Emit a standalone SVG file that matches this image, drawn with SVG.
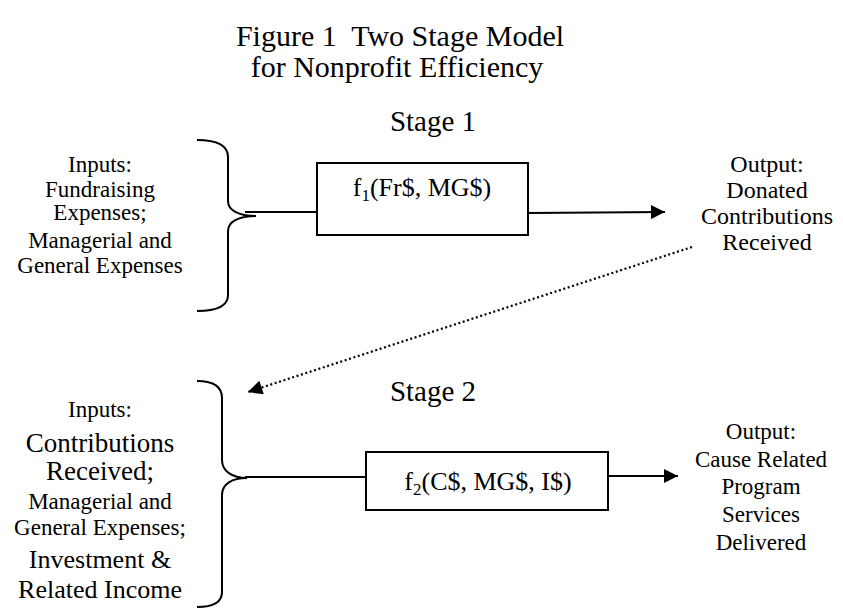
<svg xmlns="http://www.w3.org/2000/svg" width="843" height="610" viewBox="0 0 843 610">
<defs>
<style>
text{font-family:"Liberation Serif","Times New Roman",serif;fill:#000;text-anchor:middle}
.title{font-size:30px}
.stage{font-size:29px}
.t23{font-size:23px}
.t24{font-size:24px}
.t26{font-size:26px}
.t27{font-size:27px}
.brace,.box,.line{fill:none;stroke:#000;stroke-width:2}
.dot{fill:none;stroke:#000;stroke-width:2.2;stroke-dasharray:2 2.6}
</style>
<marker id="ah" viewBox="0 0 10 10" refX="10" refY="5" markerWidth="8" markerHeight="7" markerUnits="strokeWidth" orient="auto">
<path d="M0,0 L10,5 L0,10 Z" fill="#000"/>
</marker>
<marker id="ahd" viewBox="0 0 10 10" refX="10" refY="5" markerWidth="7" markerHeight="6.5" markerUnits="strokeWidth" orient="auto">
<path d="M0,0 L10,5 L0,10 Z" fill="#000"/>
</marker>
</defs>
<g id="title">
<text class="title" x="400" y="46" xml:space="preserve">Figure 1  Two Stage Model</text>
<text class="title" x="397" y="77">for Nonprofit Efficiency</text>
</g>
<g id="stage1-label"><text class="stage" x="433" y="131">Stage 1</text></g>
<g id="stage2-label"><text class="stage" x="433" y="401">Stage 2</text></g>
<g id="inputs1">
<path class="brace" d="M197,140 C218,140 228,146 228,157 L228,201 C228,210 238,216 256,216 C238,216 228,222 228,231 L228,295 C228,306 218,311 197,311"/>
<text class="t23" x="100" y="172">Inputs:</text>
<text class="t23" x="100" y="197">Fundraising</text>
<text class="t23" x="100" y="220">Expenses;</text>
<text class="t23" x="100" y="248">Managerial and</text>
<text class="t23" x="100" y="273">General Expenses</text>
</g>
<g id="box1">
<rect class="box" x="317" y="163" width="211" height="72"/>
<text class="t26" x="422" y="196">f<tspan font-size="17" dy="5">1</tspan><tspan dy="-5">(Fr$, MG$)</tspan></text>
</g>
<g id="output1">
<text class="t24" x="767" y="172">Output:</text>
<text class="t24" x="767" y="198">Donated</text>
<text class="t24" x="767" y="224">Contributions</text>
<text class="t24" x="767" y="250">Received</text>
</g>
<g id="inputs2">
<path class="brace" d="M197,381 C214,381 222,387 222,398 L222,460 C222,471 232,478 247,478 C232,478 222,484 222,495 L222,592 C222,602 214,607 197,607"/>
<text class="t23" x="100" y="417">Inputs:</text>
<text class="t27" x="100" y="452">Contributions</text>
<text class="t27" x="100" y="480">Received;</text>
<text class="t23" x="100" y="509">Managerial and</text>
<text class="t23" x="100" y="535">General Expenses;</text>
<text class="t26" x="100" y="568">Investment &amp;</text>
<text class="t26" x="100" y="598">Related Income</text>
</g>
<g id="box2">
<rect class="box" x="366" y="452" width="242" height="58"/>
<text class="t26" x="488" y="490">f<tspan font-size="17" dy="5">2</tspan><tspan dy="-5">(C$, MG$, I$)</tspan></text>
</g>
<g id="output2">
<text class="t23" x="761" y="439">Output:</text>
<text class="t23" x="761" y="467">Cause Related</text>
<text class="t23" x="761" y="494">Program</text>
<text class="t23" x="761" y="522">Services</text>
<text class="t23" x="761" y="550">Delivered</text>
</g>
<g id="connectors">
<line class="line" x1="245" y1="212" x2="317" y2="212"/>
<line class="line" x1="528" y1="213" x2="665" y2="212" marker-end="url(#ah)"/>
<line class="dot" x1="692" y1="247" x2="248" y2="392" marker-end="url(#ahd)"/>
<line class="line" x1="245" y1="477" x2="366" y2="477"/>
<line class="line" x1="608" y1="476" x2="678" y2="476" marker-end="url(#ah)"/>
</g>
</svg>
